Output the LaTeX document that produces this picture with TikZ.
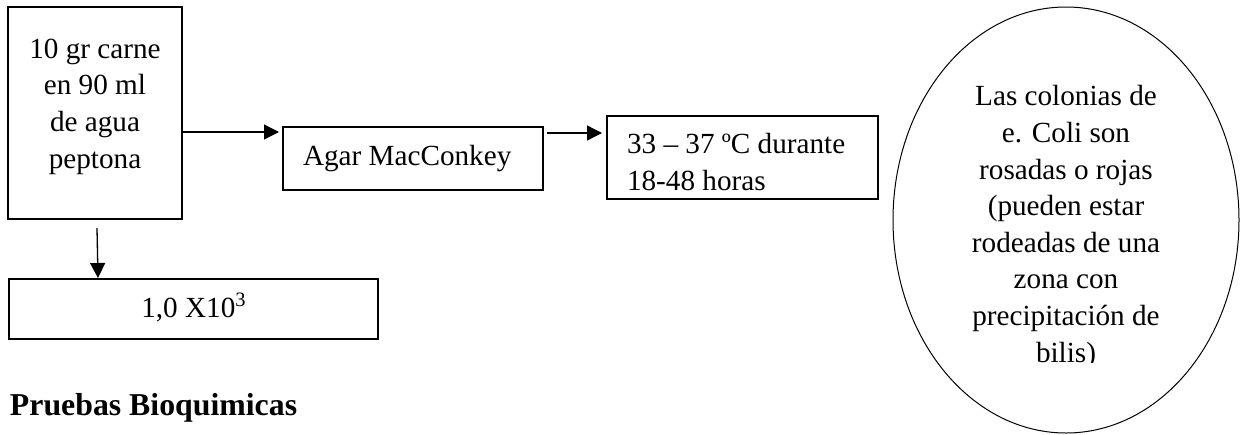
\documentclass[tikz,border=0pt]{standalone}
\usepackage{fontspec}
\setmainfont{Liberation Serif}
\usetikzlibrary{arrows.meta,shapes.geometric}
\begin{document}
\begin{tikzpicture}[x=0.5pt,y=-0.5pt,
  every node/.style={inner sep=0pt,outer sep=0pt},
  boxnode/.style={draw,line width=0.65pt,rectangle,anchor=north west},
  bodytext/.style={font=\fontsize{14.6pt}{18.3pt}\selectfont,anchor=base},
  arr/.style={line width=0.65pt,-{Triangle[length=7.5pt,width=7.5pt]}}]
\useasboundingbox (0,0) rectangle (1241,434);

% flow boxes
\node[boxnode,minimum width=87pt,minimum height=106pt] (muestra) at (8,7) {};
\node[boxnode,minimum width=130pt,minimum height=31.5pt] (agar) at (283,127) {};
\node[boxnode,minimum width=135.5pt,minimum height=41.5pt] (incub) at (607,116) {};
\node[boxnode,minimum width=184.5pt,minimum height=30pt] (conteo) at (9,279) {};
\node[draw,line width=0.5pt,ellipse,minimum width=173pt,minimum height=213pt] (colonias) at (1066,220) {};

% box texts (multi-line nodes sit on the baseline of their last line)
\node[bodytext,align=center] (muestratxt) at (95,168) {10 gr carne\\en 90 ml\\de agua\\peptona};
\node[bodytext,anchor=base west] (agartxt) at (303,165) {Agar MacConkey};
\node[bodytext,anchor=base west,align=left] (incubtxt) at (627,190) {33 – 37 ºC durante\\18-48 horas};
\node[bodytext] (conteotxt) at (194,317) {1,0 X10\textsuperscript{3}};

% text of the oval, cut off at the bottom of its frame
\begin{scope}
  \clip (880,0) rectangle (1241,362);
  \node[bodytext,align=center] (coloniastxt) at (1066,362)
    {Las colonias de\\e. Coli son\\rosadas o rojas\\(pueden estar\\rodeadas de una\\zona con\\precipitación de\\bilis)};
\end{scope}

% heading
\node[font=\fontsize{15.9pt}{19pt}\selectfont\bfseries,anchor=base west] (titulo) at (10,415) {Pruebas Bioquimicas};

% connectors
\coordinate (a1s) at (182,132);
\coordinate (a1e) at (279,132);
\coordinate (a2s) at (547,133);
\coordinate (a2e) at (602,133);
\coordinate (a3s) at (97,228);
\coordinate (a3e) at (98,278);
\draw[arr] (a1s) -- (a1e);
\draw[arr] (a2s) -- (a2e);
\draw[arr] (a3s) -- (a3e);
\end{tikzpicture}
\end{document}
